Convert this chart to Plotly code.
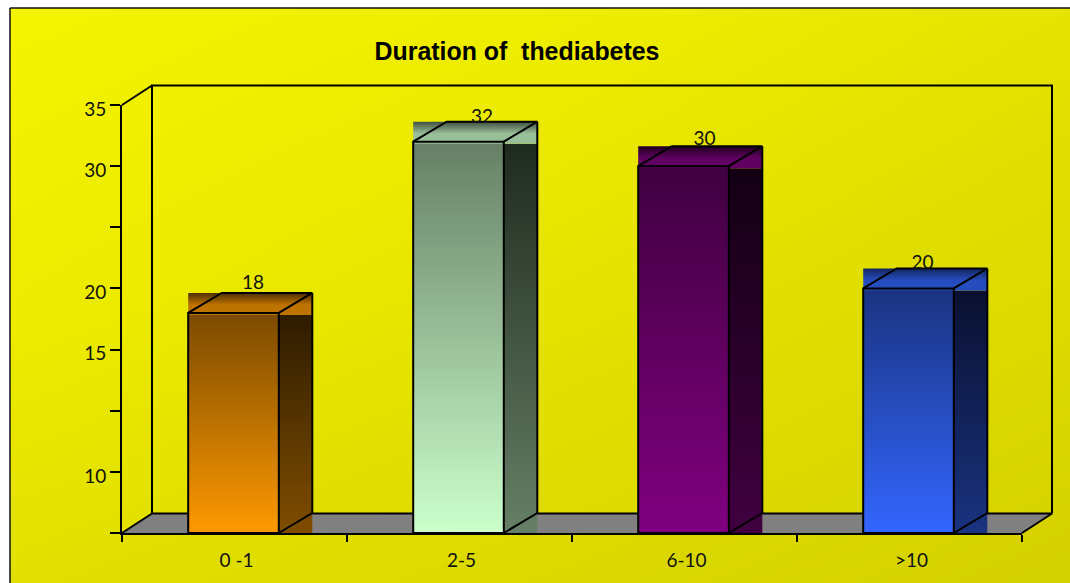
import plotly.graph_objects as go

# --- data ---
categories = ["0 -1", "2-5", "6-10", ">10"]
values = [18, 32, 30, 20]
y_tick_values = [0, 5, 10, 15, 20, 25, 30, 35]
y_tick_labels = ["", "10", "", "15", "20", "", "30", "35"]
title_text = "Duration of \u00a0thediabetes"

# colours per bar
front_top = ["#7a4a00", "#667f66", "#400040", "#1a3380"]
front_bottom = ["#ff9900", "#ccffcc", "#800080", "#3366ff"]
side_top = ["#2e1c00", "#1f2a1f", "#130013", "#0a1030"]
side_bottom = ["#804d00", "#667f66", "#400040", "#1a3380"]
lid_top = ["#4d2e00", "#3f4f3f", "#200020", "#13265f"]
lid_bottom = ["#bf7300", "#99bf99", "#600060", "#264dbf"]

label_dx_px = [19.5, 23.5, 21, 14]
label_dy_px = [9, 3, 6, 4]

# background darkness grid (top to bottom, left to right)
bg_levels = [[0.0, 0.12, 0.45], [0.16, 0.45, 0.77], [0.6, 0.82, 1.0]]

# --- geometry ---
W, H = 1070, 583
X0_PX, X1_PX = 122, 1022
Y0_PX, Y1_PX = 533, 105
CAT_PX = (X1_PX - X0_PX) / len(categories)
VAL_PX = (Y0_PX - Y1_PX) / 35.0
BAR_HALF = 45.3 / CAT_PX
BAR_SHIFT = -1.0 / CAT_PX
BAR_DX = 33.5 / CAT_PX
BAR_DY = 20.0 / VAL_PX
WALL_DX = 30.0 / CAT_PX
WALL_DY = 19.5 / VAL_PX
LINE = "#000000"
LW = 2


def px_x(p):
    return (p - X0_PX) / CAT_PX - 0.5


def px_y(p):
    return (Y0_PX - p) / VAL_PX


fig = go.Figure()

# background gradient
bx = [px_x(10), px_x(10.05), px_x(1069.95), px_x(1070)]
by = [px_y(8), px_y(8.05), px_y(582.95), px_y(583)]
fig.add_trace(go.Heatmap(
    x=bx, y=by, z=bg_levels, zmin=0, zmax=1, zsmooth="best", showscale=False, hoverinfo="skip",
    colorscale=[[0, "#ffff00"], [1, "#c6c200"]]))


def poly(xs, ys, **kw):
    fig.add_trace(go.Scatter(x=xs, y=ys, mode="lines", hoverinfo="skip", showlegend=False, **kw))


def outline(xs, ys):
    poly(xs, ys, line=dict(color=LINE, width=LW))


left, right = -0.5, len(categories) - 0.5
# floor
poly([left, left + WALL_DX, right + WALL_DX, right, left], [0, WALL_DY, WALL_DY, 0, 0],
     fill="toself", fillcolor="#808080", line=dict(width=0))
# back wall and side wall lines
outline([left + WALL_DX, left + WALL_DX, right + WALL_DX, right + WALL_DX],
        [WALL_DY, 35 + WALL_DY, 35 + WALL_DY, WALL_DY])
outline([left + WALL_DX, right + WALL_DX, right], [WALL_DY, WALL_DY, 0])
outline([left, left + WALL_DX, left + WALL_DX], [35, 35 + WALL_DY, WALL_DY])
outline([left, left + WALL_DX], [0, WALL_DY])


def grad(xa, xb, yb, yt, scale):
    poly([xa, xb, xb, xa, xa], [yb, yb, yt, yt, yb], fill="toself", line=dict(width=0),
         fillgradient=dict(type="vertical", start=yb, stop=yt, colorscale=scale))


for i, v in enumerate(values):
    c = i + BAR_SHIFT
    a, b = c - BAR_HALF, c + BAR_HALF
    grad(a, b, 0, v, [[0, front_bottom[i]], [1, front_top[i]]])
    grad(b, b + BAR_DX, 0, v - 2 / VAL_PX, [[0, side_bottom[i]], [1, side_top[i]]])
    grad(a, b + BAR_DX, v - 2 / VAL_PX, v + BAR_DY,
         [[0, lid_bottom[i]], [0.45, lid_bottom[i]], [1, lid_top[i]]])
    outline([a, b, b, a, a], [0, 0, v, v, 0])
    outline([a, a + BAR_DX, b + BAR_DX, b], [v, v + BAR_DY, v + BAR_DY, v])
    outline([b + BAR_DX, b + BAR_DX, b], [v + BAR_DY, BAR_DY, 0])

# value labels
fig.add_trace(go.Scatter(
    x=[i + BAR_SHIFT + label_dx_px[i] / CAT_PX for i in range(len(values))],
    y=[v + BAR_DY + label_dy_px[i] / VAL_PX for i, v in enumerate(values)],
    text=[str(v) for v in values], mode="text", textposition="middle center",
    textfont=dict(family="Lato", size=19, color="#111111"), hoverinfo="skip", showlegend=False))

# axes subplot carrying the real ticks
fig.add_trace(go.Scatter(x=categories, y=values, xaxis="x2", yaxis="y2", mode="markers",
                         marker=dict(opacity=0), hoverinfo="skip", showlegend=False))

tick_font = dict(family="Lato", size=19, color="#111111")
fig.update_layout(
    width=W, height=H, margin=dict(l=0, r=0, t=0, b=0), paper_bgcolor="white", plot_bgcolor="rgba(0,0,0,0)",
    showlegend=False,
    title=dict(text=title_text, x=517 / W, y=1 - 51 / H, xanchor="center", yanchor="middle",
               font=dict(family="Liberation Sans", size=24.9, color="#000000", weight="bold")),
    xaxis=dict(domain=[0, 1], range=[px_x(0), px_x(W)], visible=False, fixedrange=True, automargin=False),
    yaxis=dict(domain=[0, 1], range=[px_y(H), px_y(0)], visible=False, fixedrange=True, automargin=False),
    xaxis2=dict(domain=[X0_PX / W, X1_PX / W], anchor="y2", type="category", categoryorder="array",
                categoryarray=categories, range=[-0.5, 3.5], tickson="boundaries", ticks="outside", ticklen=7,
                tickwidth=LW, tickcolor=LINE, showline=True, linecolor=LINE, linewidth=LW, showgrid=False,
                tickfont=tick_font, ticklabelshift=2, ticklabelstandoff=9, fixedrange=True, automargin=False),
    yaxis2=dict(domain=[(H - Y0_PX) / H, (H - Y1_PX) / H], anchor="x2", range=[0, 35], tickmode="array",
                tickvals=y_tick_values, ticktext=y_tick_labels, ticks="outside", ticklen=10, tickwidth=LW,
                tickcolor=LINE, showline=True, linecolor=LINE, linewidth=LW, showgrid=False, zeroline=False,
                tickfont=tick_font, ticklabelshift=4, ticklabelstandoff=0, fixedrange=True, automargin=False),
    shapes=[
        dict(type="line", xref="paper", yref="paper", x0=10 / W, x1=10 / W, y0=0, y1=1 - 8 / H,
             line=dict(color="#111111", width=1.5)),
        dict(type="line", xref="paper", yref="paper", x0=10 / W, x1=1, y0=1 - 8 / H, y1=1 - 8 / H,
             line=dict(color="#111111", width=1.5)),
    ],
)

fig.write_html("out.html", config=dict(displayModeBar=False), post_script="document.body.style.margin='0';")
